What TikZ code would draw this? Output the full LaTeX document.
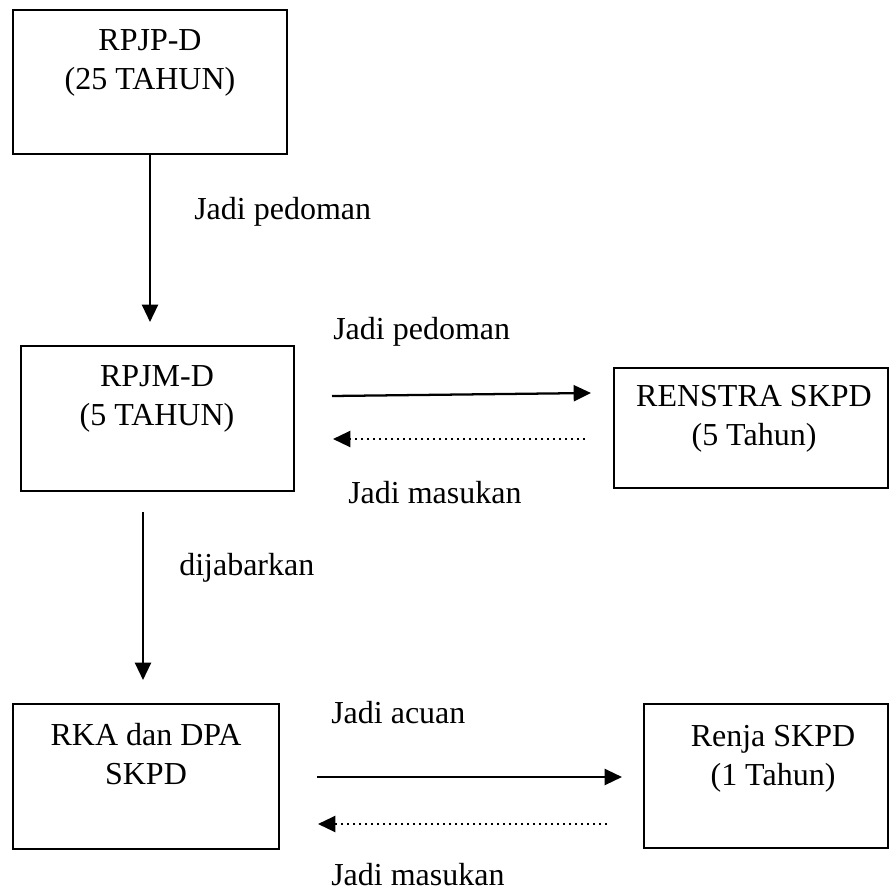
\documentclass[tikz,border=0pt]{standalone}
\usepackage{fontspec}
\setmainfont{Liberation Serif}
\usepackage{tikz}
\usetikzlibrary{arrows.meta}

\tikzset{
  boxline/.style={line width=1.2pt},
  fwd/.style={line width=1.7pt,-{Triangle[length=13pt,width=12pt]}},
  back/.style={line width=1.7pt,line cap=butt,dash pattern={on 1.7pt off 2.8pt},-{Triangle[length=13pt,width=12pt]}},
  txt/.style={inner sep=0.75pt,align=center,font=\fontsize{24}{29}\selectfont},
}

\begin{document}
\begin{tikzpicture}[x=0.75pt,y=0.75pt,yscale=-1,xscale=1]
\useasboundingbox (0,0) rectangle (890,892);

%Boxes
\draw [boxline] (13,10) rectangle (287,154) ;
\draw [boxline] (21,346) rectangle (294,491) ;
\draw [boxline] (614,368) rectangle (888,488) ;
\draw [boxline] (13,704) rectangle (279,849) ;
\draw [boxline] (644,704) rectangle (888,848) ;

% Text Node
\draw (150,63) node [txt] (rpjp) {RPJP-D\\(25 TAHUN)};
% Text Node
\draw (157,399) node [txt] (rpjm) {RPJM-D\\(5 TAHUN)};
% Text Node
\draw (754,419) node [txt] (renstra) {RENSTRA SKPD\\(5 Tahun)};
% Text Node
\draw (146,754) node [txt] (rka) {RKA dan DPA\\SKPD};
% Text Node
\draw (773,759) node [txt] (renja) {Renja SKPD\\(1 Tahun)};

%Arrow ends
\coordinate (p1) at (150,154);
\coordinate (p2) at (150,322);
\coordinate (p3) at (143,512);
\coordinate (p4) at (143,680);
\coordinate (p5) at (332,396);
\coordinate (p6) at (591,393);
\coordinate (p7) at (585,439);
\coordinate (p8) at (333,439);
\coordinate (p9) at (317,777);
\coordinate (p10) at (622,777);
\coordinate (p11) at (607,824);
\coordinate (p12) at (318,824);

%Straight Lines
\draw [fwd] (p1) -- (p2) ;
\draw [fwd] (p3) -- (p4) ;
\draw [fwd] (p5) -- (p6) ;
\draw [back] (p7) -- (p8) ;
\draw [fwd] (p9) -- (p10) ;
\draw [back] (p11) -- (p12) ;

% Text Node
\draw (193,212) node [anchor=west] [txt] (lbl1) {Jadi pedoman};
% Text Node
\draw (332,332) node [anchor=west] [txt] (lbl2) {Jadi pedoman};
% Text Node
\draw (347,493) node [anchor=west] [txt] (lbl3) {Jadi masukan};
% Text Node
\draw (178,568) node [anchor=west] [txt] (lbl4) {dijabarkan};
% Text Node
\draw (330,713) node [anchor=west] [txt] (lbl5) {Jadi acuan};
% Text Node
\draw (330,875) node [anchor=west] [txt] (lbl6) {Jadi masukan};

\end{tikzpicture}
\end{document}
